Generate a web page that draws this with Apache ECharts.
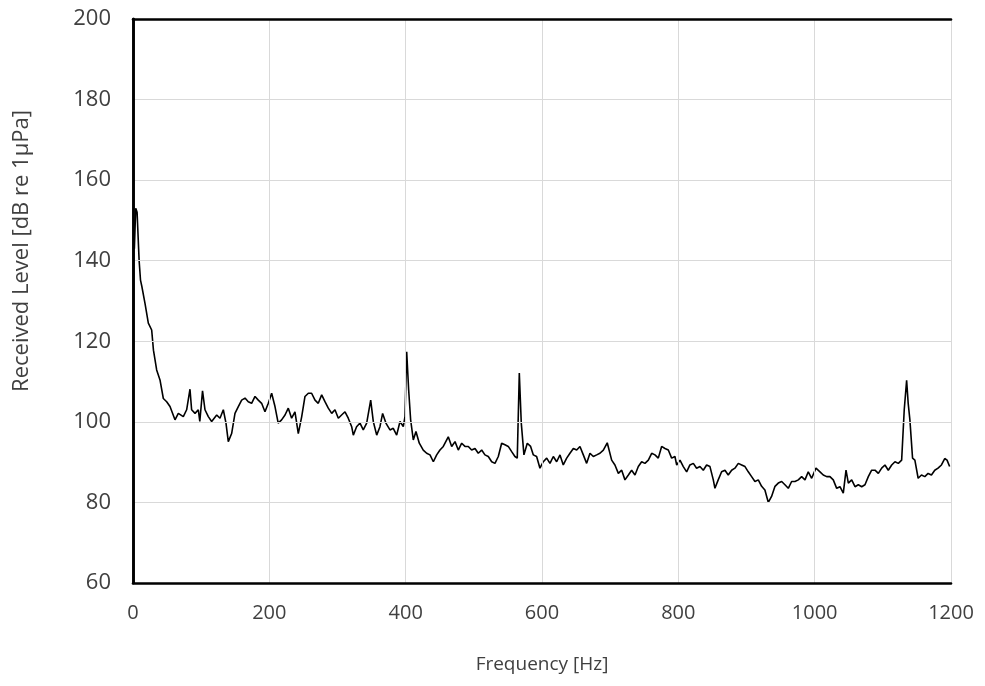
<!DOCTYPE html>
<html>
<head>
<meta charset="utf-8">
<script src="https://cdn.jsdelivr.net/npm/echarts@6/dist/echarts.min.js"></script>
<style>
  html, body { margin: 0; padding: 0; background: #fff; }
  #chart { width: 985px; height: 686px; }
</style>
</head>
<body>
<div id="chart"></div>
<script>
// Received level spectrum: frequency (Hz) and level (dB re 1 µPa)
const freqHz = [
  2, 4, 6, 9, 11, 13, 17.6, 22.5, 27.4, 30, 34.7, 39.6, 44.5, 49.4, 54.3, 61.6, 66.5, 73.8, 78.7, 83.6,
  86, 91, 95.8, 98, 102, 105.6, 110.5, 115.4, 122.8, 127.6, 132.5, 136.4, 139.8, 144.7, 149.6, 154.5, 159.4, 164.3, 169.1, 174,
  179, 183.8, 188.7, 193.6, 198.5, 203.4, 208.3, 213, 218, 223, 227.8, 232.7, 237.6, 242.5, 247.5, 252.3, 257.2, 262, 267, 271.8,
  276.8, 281.6, 286.5, 291.5, 296.3, 301.2, 306, 311, 315.8, 320.8, 323.2, 328, 333, 337.8, 342.8, 345, 348.7, 352.5, 357.5, 362.3,
  366.2, 371, 377, 381.8, 386.8, 391.7, 396.5, 399, 401.5, 404.4, 407.3, 411.2, 415.1, 420, 425.8, 430.8, 435.7, 440.6, 445.5, 450.3,
  455.2, 462.5, 467.5, 472.4, 477.2, 482.2, 487, 491.9, 496.8, 501.7, 506.5, 511.5, 516.3, 521.2, 526.2, 531, 535.9, 540.8, 545.7, 550.5,
  555.5, 560.3, 563.7, 566.7, 569.6, 573.5, 578.4, 583.3, 587.3, 592.1, 597, 601.9, 606.9, 611.7, 616.6, 621.5, 626.4, 631.2, 636.2, 641,
  646, 650.9, 655.7, 660.6, 665.5, 670.4, 675.3, 680.2, 685, 690, 695.7, 702.2, 707, 712, 716.9, 721.7, 726.7, 731.5, 736.4, 741.3,
  746.2, 751, 756, 760.9, 765.7, 770.6, 775.5, 780.4, 785.3, 790.2, 795, 797.6, 802.4, 807.3, 812.2, 817, 822, 826.8, 831.7, 836.6,
  841.5, 846.4, 851.3, 853.7, 858.5, 863.5, 868.4, 873.2, 878.2, 883, 888, 892.9, 897.8, 902.6, 907.5, 912.4, 917.3, 922.2, 927, 932,
  936.8, 941.8, 946.6, 951.6, 956.4, 961.3, 966.2, 971.1, 976, 980.9, 985.8, 990.6, 995.6, 1001.9, 1007.8, 1012.6, 1017.6, 1022.4, 1027.3, 1032.3,
  1037.1, 1042, 1046, 1049.4, 1054.3, 1059.2, 1064, 1069, 1073.8, 1078.7, 1083.6, 1088.5, 1093.4, 1098.3, 1103.1, 1108, 1113, 1117.8, 1122.7, 1127.6,
  1131.4, 1134.9, 1137.2, 1139.7, 1143.6, 1147, 1151.8, 1156.7, 1161.6, 1166.4, 1171.3, 1176.2, 1181, 1186, 1190.8, 1194.2, 1198
];
const levelDb = [
  143, 153, 152, 140, 135.2, 133.6, 129.4, 124.5, 122.8, 117.8, 112.9, 110.4, 105.8, 105, 103.8, 100.5, 102.1, 101.3, 103, 108.1,
  103, 102.1, 103, 100.1, 107.7, 103, 101.3, 100.1, 101.7, 100.9, 103, 99.7, 95.1, 97.1, 102.1, 103.8, 105.4, 105.9, 105, 104.6,
  106.3, 105.4, 104.6, 102.5, 104.6, 107.1, 103.8, 99.7, 100.5, 101.7, 103.4, 100.9, 102.5, 97.1, 101.3, 106.3, 107.1, 107.1, 105.4, 104.6,
  106.7, 105, 103.4, 102.1, 103, 100.9, 101.7, 102.5, 100.9, 98.8, 96.7, 98.8, 99.7, 98, 99.7, 100.1, 105.4, 100.1, 96.7, 98.8,
  102.1, 99.7, 98, 98.4, 96.7, 100.1, 98.8, 101.3, 117.4, 107.9, 100.5, 95.5, 97.6, 94.7, 93, 92.2, 91.8, 90.1, 91.8, 93,
  93.9, 96.3, 93.9, 95.1, 93, 94.7, 93.9, 93.9, 93, 93.4, 92.2, 93, 91.8, 91.4, 90.1, 89.7, 91.4, 94.7, 94.3, 93.9,
  92.6, 91.4, 91, 112.1, 99.7, 91.8, 94.7, 93.9, 91.8, 91.4, 88.5, 90.1, 91, 89.7, 91.4, 90.1, 91.8, 89.3, 91, 92.2,
  93.4, 93, 93.9, 91.8, 89.7, 92.2, 91.4, 91.8, 92.2, 93, 94.8, 90.5, 89.3, 87.2, 88, 85.6, 86.8, 88, 86.8, 88.9,
  90.1, 89.7, 90.5, 92.2, 91.8, 91, 93.9, 93.4, 93, 91, 91.4, 89.3, 90.5, 88.9, 87.6, 89.3, 89.7, 88.5, 88.9, 88,
  89.3, 88.9, 85.6, 83.5, 85.6, 87.6, 88, 86.8, 88, 88.5, 89.7, 89.3, 88.9, 87.6, 86.4, 85.2, 85.6, 84, 83.1, 80,
  81.5, 84, 84.8, 85.2, 84.4, 83.5, 85.2, 85.2, 85.6, 86.4, 85.6, 87.6, 86, 88.5, 87.6, 86.8, 86.4, 86.4, 85.6, 83.5,
  83.9, 82.3, 88, 84.8, 85.6, 83.9, 84.4, 83.9, 84.4, 86.4, 88, 88, 87.2, 88.5, 89.3, 88, 89.3, 90.1, 89.7, 90.5,
  103, 110.3, 104.6, 100.5, 91, 90.5, 86, 86.8, 86.4, 87.2, 86.8, 88, 88.5, 89.3, 90.9, 90.5, 88.9
];
const xTicks = [0, 200, 400, 600, 800, 1000, 1200];
const yTicks = [60, 80, 100, 120, 140, 160, 180, 200];

const spectrum = freqHz.map((f, i) => [f, levelDb[i]]);

const textColor = '#404040';
const gridColor = '#d9d9d9';
const frame = { show: true, lineStyle: { color: '#000000', width: 2.6 } };

// Extra axes on the top and right close the black frame around the plot
const frameAxis = (extra) => Object.assign({
  type: 'value',
  axisLine: frame,
  axisTick: { show: false },
  axisLabel: { show: false },
  splitLine: { show: false }
}, extra);

const chart = echarts.init(document.getElementById('chart'), null, { renderer: 'canvas' });
chart.setOption({
  animation: false,
  backgroundColor: '#ffffff',
  grid: { left: 133, right: 34, top: 19, bottom: 103 },
  xAxis: [{
    type: 'value',
    min: xTicks[0], max: xTicks[xTicks.length - 1], interval: 200,
    name: 'Frequency [Hz]',
    nameLocation: 'middle', nameGap: 72,
    nameTextStyle: { fontFamily: 'Open Sans', fontSize: 19, color: textColor },
    axisLine: frame,
    axisTick: { show: false },
    axisLabel: {
      fontFamily: 'Open Sans', fontSize: 20, color: textColor, margin: 20,
      formatter: (v) => String(v)
    },
    splitLine: { show: true, lineStyle: { color: gridColor, width: 1 } },
    z: 5
  }, frameAxis({
    position: 'top',
    min: xTicks[0], max: xTicks[xTicks.length - 1],
    z: 5
  })],
  yAxis: [{
    type: 'value',
    min: yTicks[0], max: yTicks[yTicks.length - 1], interval: 20,
    name: 'Received Level [dB re 1\u03BCPa]',
    nameLocation: 'middle', nameGap: 100, nameRotate: 90,
    nameTextStyle: {
      fontFamily: 'Open Sans', fontSize: 22, color: textColor,
      padding: [0, 0, 0, 100]
    },
    axisLine: frame,
    axisTick: { show: false },
    axisLabel: { fontFamily: 'Open Sans', fontSize: 22, color: textColor, margin: 22 },
    splitLine: { show: true, lineStyle: { color: gridColor, width: 1 } },
    z: 5
  }, frameAxis({
    position: 'right',
    min: yTicks[0], max: yTicks[yTicks.length - 1],
    z: 5
  })],
  series: [{
    type: 'line',
    data: spectrum,
    showSymbol: false,
    symbol: 'none',
    lineStyle: { color: '#000000', width: 1.6 },
    z: 3
  }]
});
</script>
</body>
</html>
